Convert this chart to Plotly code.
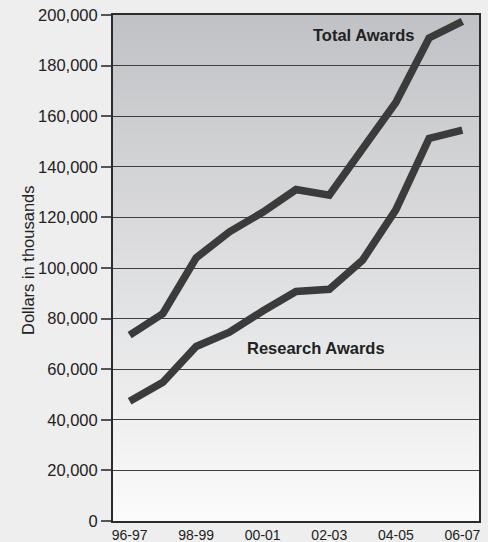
import plotly.graph_objects as go

years = ["96-97", "97-98", "98-99", "99-00", "00-01", "01-02",
         "02-03", "03-04", "04-05", "05-06", "06-07"]
total_awards = [73500, 82000, 104000, 114300, 122000, 131000,
                128800, 147000, 165400, 190900, 197500]
research_awards = [47300, 54800, 69000, 74600, 83000, 90700,
                   91600, 103100, 123000, 151200, 154500]
x_tick_labels = ["96-97", "98-99", "00-01", "02-03", "04-05", "06-07"]
y_ticks = list(range(0, 200001, 20000))

FONT = "Liberation Sans Narrow, Arial Narrow, Liberation Sans, Arial, sans-serif"
LINE_COLOR = "#3b3b3b"

fig = go.Figure()
fig.add_trace(go.Scatter(x=years, y=total_awards, mode="lines",
                         line=dict(color=LINE_COLOR, width=7.5),
                         name="Total Awards", showlegend=False, hoverinfo="skip"))
fig.add_trace(go.Scatter(x=years, y=research_awards, mode="lines",
                         line=dict(color=LINE_COLOR, width=7.5),
                         name="Research Awards", showlegend=False, hoverinfo="skip"))

# vertical gradient background (top grey -> bottom near white)
n = 60
top = (193, 194, 197)
bot = (251, 251, 251)
shapes = []
for i in range(n):
    t = (i + 0.5) / n
    c = tuple(round(bot[k] + (top[k] - bot[k]) * t) for k in range(3))
    shapes.append(dict(type="rect", xref="x domain", yref="y domain",
                       x0=0, x1=1, y0=i / n, y1=(i + 1) / n + 0.002,
                       fillcolor="rgb(%d,%d,%d)" % c, line=dict(width=0),
                       layer="below"))

fig.update_layout(
    width=488, height=542,
    margin=dict(l=113, r=9, t=15, b=21),
    paper_bgcolor="#eeeeee",
    plot_bgcolor="#f6f6f6",
    font=dict(family=FONT, size=16, color="#222222"),
    shapes=shapes,
    annotations=[
        dict(x=7.03, y=192000, xref="x", yref="y", text="<b>Total Awards</b>",
             showarrow=False, font=dict(family=FONT, size=16.5, color="#222222")),
        dict(x=5.6, y=68500, xref="x", yref="y", text="<b>Research Awards</b>",
             showarrow=False, font=dict(family=FONT, size=16.5, color="#222222")),
        dict(x=-0.232, y=0.516, xref="paper", yref="paper",
             text="Dollars in thousands", textangle=-90, showarrow=False,
             xanchor="center", yanchor="middle",
             font=dict(family=FONT, size=16.5, color="#222222")),
    ],
)
fig.update_xaxes(
    type="category", range=[-0.5, 10.5], automargin=False,
    tickmode="array", tickvals=x_tick_labels, ticktext=x_tick_labels,
    showgrid=False, ticks="", ticklen=0,
    showline=True, linecolor="#2b2b2b", linewidth=2, mirror=True,
    tickfont=dict(size=14),
)
fig.update_yaxes(
    range=[0, 200000], tickmode="array", tickvals=y_ticks, automargin=False,
    tickformat=",", showgrid=True, gridcolor="#3e3e3e", gridwidth=1.2,
    ticks="outside", ticklen=10, tickcolor="#555555", tickwidth=1.5,
    showline=True, linecolor="#2b2b2b", linewidth=2, mirror=True,
    zeroline=False,
    tickfont=dict(size=16.5),
)

fig.write_html(
    "out.html",
    config={"displayModeBar": False},
    post_script="document.body.style.margin='0';document.body.style.background='#eeeeee';",
)
